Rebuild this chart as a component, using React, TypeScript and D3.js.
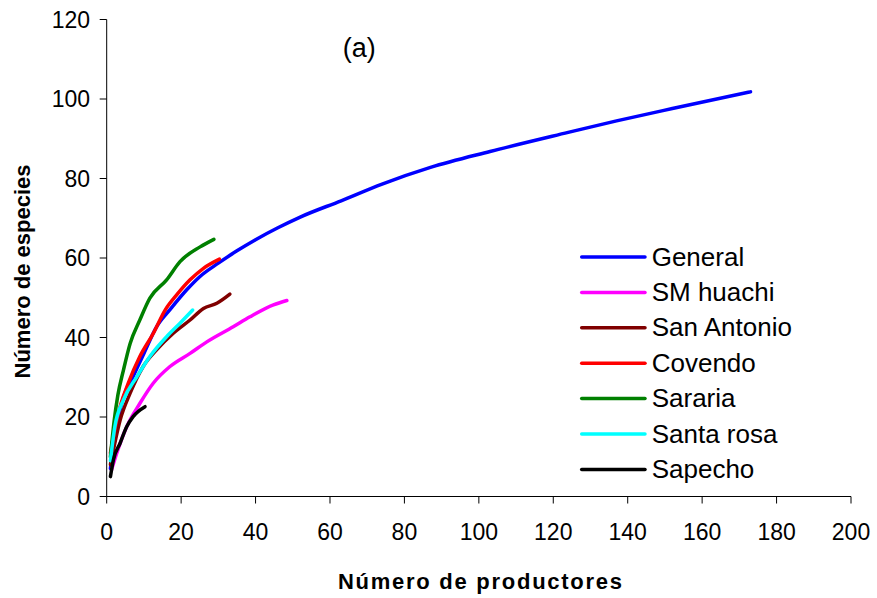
import React from "react";
import * as d3 from "d3";

const W = 877;
const H = 598;

const xTicks = [0, 20, 40, 60, 80, 100, 120, 140, 160, 180, 200];
const yTicks = [0, 20, 40, 60, 80, 100, 120];

const seriesNames = ["General", "SM huachi", "San Antonio", "Covendo", "Sararia", "Santa rosa", "Sapecho"];
const seriesColors = ["#0000FF", "#FF00FF", "#800000", "#FF0000", "#008000", "#00FFFF", "#000000"];

const generalX = [1, 2, 3, 4.5, 7, 10, 13.4, 17, 21.5, 25, 30, 35, 40, 46, 52, 63, 74, 87, 103, 124, 137, 152, 173];
const generalY = [7, 14, 19, 25, 30, 36, 42.7, 47, 52, 55.3, 58.7, 61.8, 64.6, 67.6, 70.3, 74.4, 78.6, 82.8, 86.8, 91.6, 94.5, 97.6, 101.8];

const smHuachiX = [1.3, 2.7, 5.4, 8.9, 12.5, 17, 22.4, 26.9, 34, 38.5, 44.8, 48.4];
const smHuachiY = [6.7, 10.9, 17.6, 23.4, 28.5, 32.7, 36, 38.9, 42.7, 45.2, 48.2, 49.3];

const sanAntonioX = [1, 3.6, 6.3, 9.8, 13.4, 17.9, 22.4, 26, 29.6, 33.1];
const sanAntonioY = [8, 19.2, 26, 32.7, 36.9, 41.1, 44.4, 47.3, 48.6, 50.9];

const covendoX = [1, 3.1, 5.8, 8.9, 12.5, 15.7, 18.8, 22.4, 26, 30.3];
const covendoY = [10.9, 20.9, 28.5, 35.2, 41, 46.9, 50.7, 54.5, 57.4, 59.7];

const sarariaX = [1, 2, 3, 4.5, 6.3, 8.9, 11.6, 16.1, 19.7, 25.1, 28.8];
const sarariaY = [10, 19, 25.5, 31.8, 38.5, 44.4, 49.9, 54.5, 59.1, 62.8, 64.7];

const santaRosaX = [1, 2.2, 4.5, 8.1, 11.6, 16.1, 19.7, 23.1];
const santaRosaY = [9, 17.6, 24.3, 30.1, 35.2, 40.2, 43.6, 46.9];

const sapechoX = [1, 1.8, 3.6, 5.4, 7.1, 10.3];
const sapechoY = [5, 9.2, 13.4, 17.6, 20.1, 22.6];

const seriesXs = [generalX, smHuachiX, sanAntonioX, covendoX, sarariaX, santaRosaX, sapechoX];
const seriesYs = [generalY, smHuachiY, sanAntonioY, covendoY, sarariaY, santaRosaY, sapechoY];

const FONT = "'Liberation Sans', Arial, Helvetica, sans-serif";

export default function App() {
  const x = d3.scaleLinear().domain([0, 200]).range([106.7, 851]);
  const y = d3.scaleLinear().domain([0, 120]).range([496.5, 19.5]);

  const line = d3
    .line<[number, number]>()
    .x((d) => x(d[0]))
    .y((d) => y(d[1]))
    .curve(d3.curveMonotoneX);

  const legendX0 = 581.7;
  const legendX1 = 645;
  const legendTextX = 651.7;
  const legendY0 = 257;
  const legendStep = 35.4;

  return (
    <svg
      width={W}
      height={H}
      style={{ position: "absolute", left: 0, top: 0, background: "#fff" }}
      fontFamily={FONT}
    >
      <rect x={0} y={0} width={W} height={H} fill="#fff" />
      {/* axes */}
      <line x1={x(0)} x2={x(0)} y1={y(120)} y2={y(0)} stroke="#000" strokeWidth={1} />
      <line x1={x(0)} x2={x(200)} y1={y(0)} y2={y(0)} stroke="#000" strokeWidth={1} />
      {yTicks.map((t) => (
        <g key={"y" + t}>
          <line x1={x(0) - 7} x2={x(0)} y1={y(t)} y2={y(t)} stroke="#000" strokeWidth={1} />
          <text x={90} y={y(t) + 8} textAnchor="end" fontSize={23} fill="#000">
            {t}
          </text>
        </g>
      ))}
      {xTicks.map((t) => (
        <g key={"x" + t}>
          <line x1={x(t)} x2={x(t)} y1={y(0)} y2={y(0) + 7} stroke="#000" strokeWidth={1} />
          <text x={x(t)} y={540} textAnchor="middle" fontSize={23} fill="#000">
            {t}
          </text>
        </g>
      ))}
      {/* series */}
      {seriesNames.map((name, i) => {
        const pts: [number, number][] = seriesXs[i].map((v, j) => [v, seriesYs[i][j]]);
        return (
          <path
            key={name}
            d={line(pts) || ""}
            fill="none"
            stroke={seriesColors[i]}
            strokeWidth={3.5}
            strokeLinecap="round"
            strokeLinejoin="round"
          />
        );
      })}
      {/* legend */}
      {seriesNames.map((name, i) => {
        const ly = legendY0 + i * legendStep;
        return (
          <g key={"lg" + name}>
            <line x1={legendX0} x2={legendX1} y1={ly} y2={ly} stroke={seriesColors[i]} strokeWidth={3.5} strokeLinecap="round" />
            <text x={legendTextX} y={ly + 8.5} fontSize={26} fill="#000">
              {name}
            </text>
          </g>
        );
      })}
      {/* panel label */}
      <text x={342.7} y={56.7} fontSize={27} fill="#000">
        (a)
      </text>
      {/* axis titles */}
      <text
        x={480}
        y={589}
        textAnchor="middle"
        fontSize={22}
        fontWeight="bold"
        fill="#000"
        textLength={284}
        lengthAdjust="spacing"
      >
        Número de productores
      </text>
      <text
        transform={`translate(29.5, 271.5) rotate(-90)`}
        textAnchor="middle"
        fontSize={22}
        fontWeight="bold"
        fill="#000"
      >
        Número de especies
      </text>
    </svg>
  );
}
